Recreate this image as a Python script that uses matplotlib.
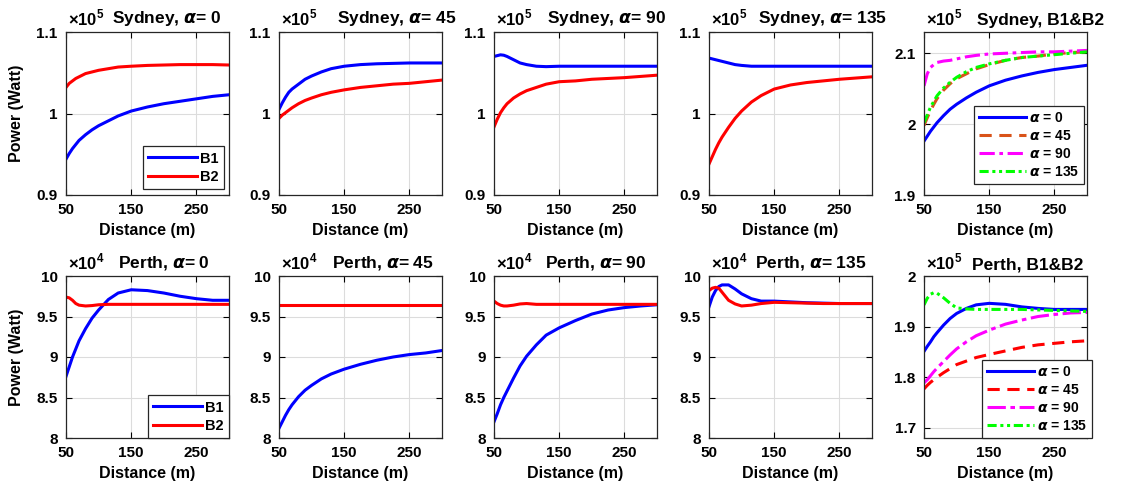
import matplotlib
matplotlib.use("Agg")
import matplotlib.pyplot as plt

plt.rcParams['font.family'] = ['Liberation Sans', 'DejaVu Sans']
plt.rcParams['font.weight'] = 'bold'
plt.rcParams['mathtext.fontset'] = 'custom'
plt.rcParams['mathtext.rm'] = 'Liberation Sans'

# distance samples (m)
distance = [50, 55, 60, 65, 70, 80, 90, 100, 115, 130, 150, 175, 200, 225, 250, 275, 300]

# Sydney, per beam (x10^5 W)
syd_a0_b1 = [0.944, 0.951, 0.957, 0.962, 0.967, 0.974, 0.980, 0.985, 0.991, 0.997, 1.003, 1.008, 1.012, 1.015, 1.018, 1.021, 1.023]
syd_a0_b2 = [1.032, 1.037, 1.040, 1.043, 1.045, 1.049, 1.051, 1.053, 1.055, 1.057, 1.058, 1.059, 1.0595, 1.060, 1.060, 1.060, 1.0595]
syd_a45_b1 = [1.005, 1.013, 1.020, 1.026, 1.030, 1.036, 1.042, 1.046, 1.051, 1.055, 1.058, 1.060, 1.061, 1.0615, 1.062, 1.062, 1.062]
syd_a45_b2 = [0.994, 0.998, 1.001, 1.004, 1.007, 1.012, 1.016, 1.019, 1.023, 1.026, 1.029, 1.032, 1.034, 1.036, 1.037, 1.039, 1.041]
syd_a90_b1 = [1.070, 1.071, 1.072, 1.0715, 1.070, 1.066, 1.062, 1.060, 1.058, 1.0575, 1.058, 1.058, 1.058, 1.058, 1.058, 1.058, 1.058]
syd_a90_b2 = [0.9835, 0.993, 1.001, 1.007, 1.012, 1.019, 1.024, 1.028, 1.032, 1.036, 1.039, 1.040, 1.042, 1.043, 1.044, 1.0455, 1.047]
syd_a135_b1 = [1.068, 1.067, 1.066, 1.065, 1.064, 1.062, 1.060, 1.059, 1.058, 1.058, 1.058, 1.058, 1.058, 1.058, 1.058, 1.058, 1.058]
syd_a135_b2 = [0.938, 0.947, 0.956, 0.964, 0.971, 0.983, 0.994, 1.003, 1.014, 1.022, 1.030, 1.035, 1.038, 1.040, 1.042, 1.0435, 1.045]

# Sydney, B1+B2 (x10^5 W)
syd_sum_a0 = [1.976, 1.983, 1.990, 1.996, 2.002, 2.012, 2.021, 2.028, 2.037, 2.045, 2.054, 2.062, 2.068, 2.073, 2.077, 2.080, 2.083]
syd_sum_a45 = [1.998, 2.009, 2.019, 2.028, 2.036, 2.048, 2.057, 2.064, 2.071, 2.078, 2.084, 2.090, 2.094, 2.096, 2.099, 2.101, 2.102]
syd_sum_a90 = [2.054, 2.071, 2.080, 2.084, 2.087, 2.089, 2.090, 2.092, 2.095, 2.097, 2.099, 2.100, 2.101, 2.102, 2.102, 2.103, 2.104]
syd_sum_a135 = [2.002, 2.013, 2.024, 2.032, 2.040, 2.051, 2.059, 2.066, 2.074, 2.080, 2.085, 2.090, 2.094, 2.096, 2.098, 2.100, 2.102]

# Perth, per beam (x10^4 W)
per_a0_b1 = [8.76, 8.88, 9.00, 9.10, 9.20, 9.35, 9.48, 9.58, 9.71, 9.79, 9.83, 9.82, 9.79, 9.75, 9.72, 9.70, 9.70]
per_a0_b2 = [9.74, 9.73, 9.70, 9.66, 9.64, 9.63, 9.635, 9.645, 9.65, 9.65, 9.65, 9.65, 9.65, 9.65, 9.65, 9.65, 9.65]
per_a45_b1 = [8.12, 8.20, 8.28, 8.35, 8.41, 8.51, 8.59, 8.65, 8.73, 8.79, 8.85, 8.91, 8.96, 9.00, 9.03, 9.05, 9.08]
per_a45_b2 = [9.64, 9.64, 9.64, 9.64, 9.64, 9.64, 9.64, 9.64, 9.64, 9.64, 9.64, 9.64, 9.64, 9.64, 9.64, 9.64, 9.64]
per_a90_b1 = [8.20, 8.30, 8.41, 8.50, 8.58, 8.74, 8.89, 9.01, 9.15, 9.27, 9.36, 9.45, 9.53, 9.58, 9.61, 9.63, 9.645]
per_a90_b2 = [9.69, 9.66, 9.64, 9.63, 9.63, 9.64, 9.655, 9.66, 9.65, 9.65, 9.65, 9.65, 9.65, 9.65, 9.65, 9.65, 9.65]
per_a135_b1 = [9.62, 9.74, 9.82, 9.87, 9.89, 9.89, 9.84, 9.78, 9.72, 9.69, 9.69, 9.68, 9.67, 9.665, 9.66, 9.66, 9.66]
per_a135_b2 = [9.82, 9.85, 9.86, 9.85, 9.80, 9.70, 9.655, 9.63, 9.64, 9.66, 9.675, 9.67, 9.665, 9.66, 9.66, 9.66, 9.66]

# Perth, B1+B2 (x10^5 W)
per_sum_a0 = [1.851, 1.861, 1.870, 1.880, 1.888, 1.903, 1.916, 1.926, 1.936, 1.943, 1.946, 1.944, 1.939, 1.936, 1.934, 1.934, 1.934]
per_sum_a45 = [1.777, 1.784, 1.790, 1.795, 1.800, 1.809, 1.817, 1.825, 1.832, 1.839, 1.845, 1.852, 1.859, 1.864, 1.867, 1.870, 1.872]
per_sum_a90 = [1.789, 1.795, 1.803, 1.811, 1.818, 1.831, 1.844, 1.856, 1.870, 1.882, 1.893, 1.905, 1.913, 1.920, 1.924, 1.927, 1.928]
per_sum_a135 = [1.943, 1.956, 1.964, 1.967, 1.966, 1.957, 1.946, 1.937, 1.935, 1.934, 1.934, 1.934, 1.934, 1.933, 1.932, 1.931, 1.930]

alpha_labels = [r'$\alpha$ = 0', r'$\alpha$ = 45', r'$\alpha$ = 90', r'$\alpha$ = 135']

W, H = 1126, 493
fig = plt.figure(figsize=(W / 100, H / 100), dpi=100)

lefts = [66, 279, 494, 709, 924]
AW = 163


def make_ax(col, top, bottom):
    return fig.add_axes([lefts[col] / W, (H - bottom) / H, AW / W, (bottom - top) / H])


def style(ax, ylim, yticks, ytl, expo, title, toff, ylabel=False):
    ax.set_xlim(50, 300)
    ax.set_ylim(*ylim)
    ax.set_xticks([50, 150, 250])
    ax.set_yticks(yticks)
    ax.set_yticklabels(ytl)
    ax.grid(True, color='#dcdcdc', lw=0.8)
    ax.set_axisbelow(True)
    ax.tick_params(direction='in', top=True, right=True, length=4, width=0.8,
                   labelsize=11, pad=6)
    for lab in ax.get_xticklabels() + ax.get_yticklabels():
        lab.set_fontweight('bold')
    for s in ax.spines.values():
        s.set_linewidth(0.9)
        s.set_color('#262626')
    ax.set_xlabel('Distance (m)', fontsize=11.5, fontweight='bold', labelpad=4)
    if ylabel:
        ax.set_ylabel('Power (Watt)', fontsize=11.5, fontweight='bold')
        ax.yaxis.set_label_coords(-0.255, 0.5)
    ax.text(2 / AW, 1 + 4 / AW, r'$\times10^{%d}$' % expo, transform=ax.transAxes,
            fontsize=12, fontweight='normal', ha='left', va='bottom')
    ax.text(toff / AW, 1 + 4 / AW, title, transform=ax.transAxes,
            fontsize=12.5, fontweight='bold', ha='left', va='bottom')


def legend(ax, handles, labels, dx, dy, fs):
    lg = ax.legend(handles, labels, loc='lower right',
                   bbox_to_anchor=(1 - dx / AW, dy / AW), borderaxespad=0,
                   fancybox=False, framealpha=1, edgecolor='#262626',
                   handlelength=3.4, fontsize=fs, borderpad=0.35,
                   labelspacing=0.3, handletextpad=0.2)
    lg.get_frame().set_linewidth(0.9)
    for t in lg.get_texts():
        t.set_fontweight('bold')


lw = 2.2
dashdotdot = (0, (3, 1.2, 1, 1.2, 1, 1.2))

# top row: Sydney
syd_pairs = [(syd_a0_b1, syd_a0_b2, '0'), (syd_a45_b1, syd_a45_b2, '45'),
             (syd_a90_b1, syd_a90_b2, '90'), (syd_a135_b1, syd_a135_b2, '135')]
syd_toff = [46, 58, 53, 49]
for i, (b1, b2, a) in enumerate(syd_pairs):
    ax = make_ax(i, 32, 195)
    l1, = ax.plot(distance, b1, color='#0000ff', lw=lw)
    l2, = ax.plot(distance, b2, color='#ff0000', lw=lw)
    style(ax, (0.9, 1.1), [0.9, 1.0, 1.1], ['0.9', '1', '1.1'], 5,
          r'Sydney, $\alpha$= ' + a, syd_toff[i], ylabel=(i == 0))
    if i == 0:
        legend(ax, [l1, l2], ['B1', 'B2'], 5, 6, 10.5)

ax = make_ax(4, 32, 195)
h = []
h += ax.plot(distance, syd_sum_a0, color='#0000ff', lw=lw)
h += ax.plot(distance, syd_sum_a45, color='#d95319', lw=lw, ls=(0, (4, 2.5)))
h += ax.plot(distance, syd_sum_a90, color='#ff00ff', lw=lw, ls=(0, (5, 1.5, 1.2, 1.5)))
h += ax.plot(distance, syd_sum_a135, color='#00ff00', lw=lw, ls=dashdotdot)
style(ax, (1.9, 2.13), [1.9, 2.0, 2.1], ['1.9', '2', '2.1'], 5,
      'Sydney, B1&B2', 53)
legend(ax, h, alpha_labels, 3, 11, 10)

# bottom row: Perth
per_pairs = [(per_a0_b1, per_a0_b2, '0'), (per_a45_b1, per_a45_b2, '45'),
             (per_a90_b1, per_a90_b2, '90'), (per_a135_b1, per_a135_b2, '135')]
per_toff = [52, 53, 51, 46]
for i, (b1, b2, a) in enumerate(per_pairs):
    ax = make_ax(i, 276, 438)
    l1, = ax.plot(distance, b1, color='#0000ff', lw=lw)
    l2, = ax.plot(distance, b2, color='#ff0000', lw=lw)
    style(ax, (8, 10), [8, 8.5, 9, 9.5, 10], ['8', '8.5', '9', '9.5', '10'], 4,
          r'Perth, $\alpha$= ' + a, per_toff[i], ylabel=(i == 0))
    if i == 0:
        legend(ax, [l1, l2], ['B1', 'B2'], 0, 0, 10.5)

ax = make_ax(4, 276, 438)
h = []
h += ax.plot(distance, per_sum_a0, color='#0000ff', lw=lw)
h += ax.plot(distance, per_sum_a45, color='#ff0000', lw=lw, ls=(0, (4, 2.5)))
h += ax.plot(distance, per_sum_a90, color='#ff00ff', lw=lw, ls=(0, (6, 1.5, 1.5, 1.5)))
h += ax.plot(distance, per_sum_a135, color='#00ff00', lw=lw, ls=dashdotdot)
style(ax, (1.68, 2.0), [1.7, 1.8, 1.9, 2.0], ['1.7', '1.8', '1.9', '2'], 5,
      'Perth, B1&B2', 48)
legend(ax, h, alpha_labels, -5, 0, 10)

fig.savefig('out.png', dpi=100)
